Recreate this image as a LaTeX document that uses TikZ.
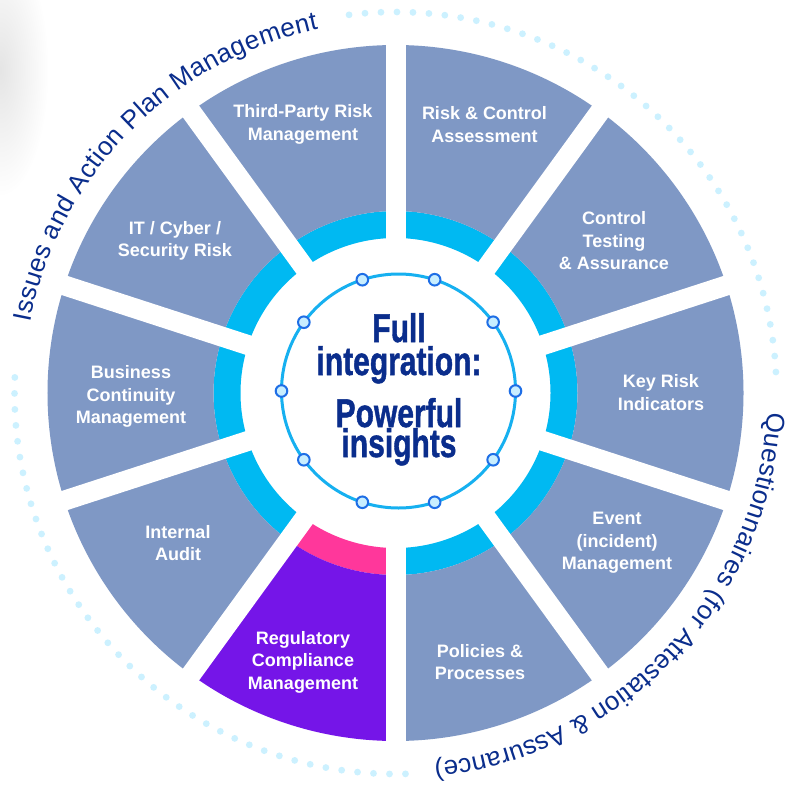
\documentclass[tikz,border=0pt]{standalone}
\usepackage{fontspec}
\setmainfont{Liberation Sans}
\newfontfamily\ctrfont{Liberation Sans}[FakeBold=1.3]
\usetikzlibrary{decorations.text,fadings}
\definecolor{seggray}{RGB}{127,152,197}
\definecolor{bandcyan}{RGB}{0,185,242}
\definecolor{regpurple}{RGB}{117,21,232}
\definecolor{regpink}{RGB}{255,55,155}
\definecolor{darkblue}{RGB}{10,45,140}
\definecolor{dotcyan}{RGB}{204,241,255}
\definecolor{ringcyan}{RGB}{22,176,240}
\definecolor{ringdotfill}{RGB}{200,238,255}
\definecolor{ringdotdraw}{RGB}{30,110,230}
\newcommand{\arcfont}{\fontsize{26}{26}\selectfont}
\tikzfading[name=softblob, inner color=transparent!0, outer color=transparent!100]
\tikzset{
  lbl/.style={text=white, font=\bfseries\fontsize{18}{22.5}\selectfont, align=center, inner sep=0pt},
  ctr/.style={text=darkblue, font=\ctrfont\bfseries\fontsize{40}{40}\selectfont, xscale=0.75, inner sep=0pt, anchor=base},
  gapline/.style={white, line width=20pt},
  ringdot/.style={fill=ringdotfill, draw=ringdotdraw, line width=2pt},
  outerdots/.style={dotcyan, line width=6.8pt, line cap=round, dash pattern=on 0pt off 16pt}
}
\begin{document}
\begin{tikzpicture}[x=1pt,y=1pt]
\useasboundingbox (0,0) rectangle (795,-789);
\fill[white] (0,0) rectangle (795,-789);
% faint shadow at the top-left edge
\fill[black!10, path fading=softblob] (0,-70) ellipse[x radius=48pt, y radius=125pt];
\coordinate (C) at (395.5,-393);
\coordinate (IC) at (398.5,-391);
% segments
\foreach \a/\band/\seg in {108/bandcyan/seggray, 72/bandcyan/seggray, 36/bandcyan/seggray, 0/bandcyan/seggray, -36/bandcyan/seggray, -72/bandcyan/seggray, -108/regpink/regpurple, -144/bandcyan/seggray, -180/bandcyan/seggray, -216/bandcyan/seggray}{
  \fill[\band] ([shift={(C)}]\a-18:155pt) -- ([shift={(C)}]\a-18:182pt) arc[start angle=\a-18, end angle=\a+18, radius=182pt] -- ([shift={(C)}]\a+18:155pt) arc[start angle=\a+18, end angle=\a-18, radius=155pt] -- cycle;
  \fill[\seg] ([shift={(C)}]\a-18:182pt) -- ([shift={(C)}]\a-18:348pt) arc[start angle=\a-18, end angle=\a+18, radius=348pt] -- ([shift={(C)}]\a+18:182pt) arc[start angle=\a+18, end angle=\a-18, radius=182pt] -- cycle;
}
\foreach \g in {90,126,162,198,234,270,306,342,18,54}{
  \draw[gapline] ([shift={(C)}]\g:140pt) -- ([shift={(C)}]\g:362pt);
}
% outer dotted arcs
\draw[outerdots] ([shift={(C)}]97:381pt) arc[start angle=97, end angle=2, radius=381pt];
\draw[outerdots] ([shift={(C)}]-88.5:381pt) arc[start angle=-88.5, end angle=-184.5, radius=381pt];
% arc texts
\path[decorate, decoration={text along path, text color=darkblue, text align={fit to path},
  text={|\arcfont|Issues and Action Plan Management}}]
  ([shift={(C)}]169:372pt) arc[start angle=169, end angle=102, radius=372pt];
\path[decorate, decoration={text along path, text color=darkblue, text align={fit to path},
  text={|\arcfont|Questionnaires (for Attestation {\&} Assurance)}}]
  ([shift={(C)}]-3:372pt) arc[start angle=-3, end angle=-84, radius=372pt];
% inner ring
\draw[ringcyan, line width=3pt] (IC) circle[radius=117pt];
\foreach \d in {0,36,...,324}{
  \draw[ringdot] ([shift={(IC)}]\d:117pt) circle[radius=5.8pt];
}
% labels
\node[lbl] (tprm) at (303,-124.5) {Third-Party Risk\\Management};
\node[lbl] (rca) at (484.5,-124.5) {Risk \& Control\\Assessment};
\node[lbl] (cta) at (614,-241) {Control\\Testing\\\& Assurance};
\node[lbl] (kri) at (661,-392.5) {Key Risk\\Indicators};
\node[lbl] (eim) at (617,-543) {Event\\(incident)\\Management};
\node[lbl] (pp) at (480,-662) {Policies \&\\Processes};
\node[lbl] (rcm) at (303,-662) {Regulatory\\Compliance\\Management};
\node[lbl] (ia) at (178,-543) {Internal\\Audit};
\node[lbl] (bcm) at (131,-396.5) {Business\\Continuity\\Management};
\node[lbl] (itc) at (175,-241) {IT / Cyber /\\Security Risk};
% center text
\node[ctr] (c1) at (399,-342) {Full};
\node[ctr] (c2) at (399,-375) {integration:};
\node[ctr] (c3) at (399,-427) {Powerful};
\node[ctr] (c4) at (399,-457) {insights};
\end{tikzpicture}
\end{document}
